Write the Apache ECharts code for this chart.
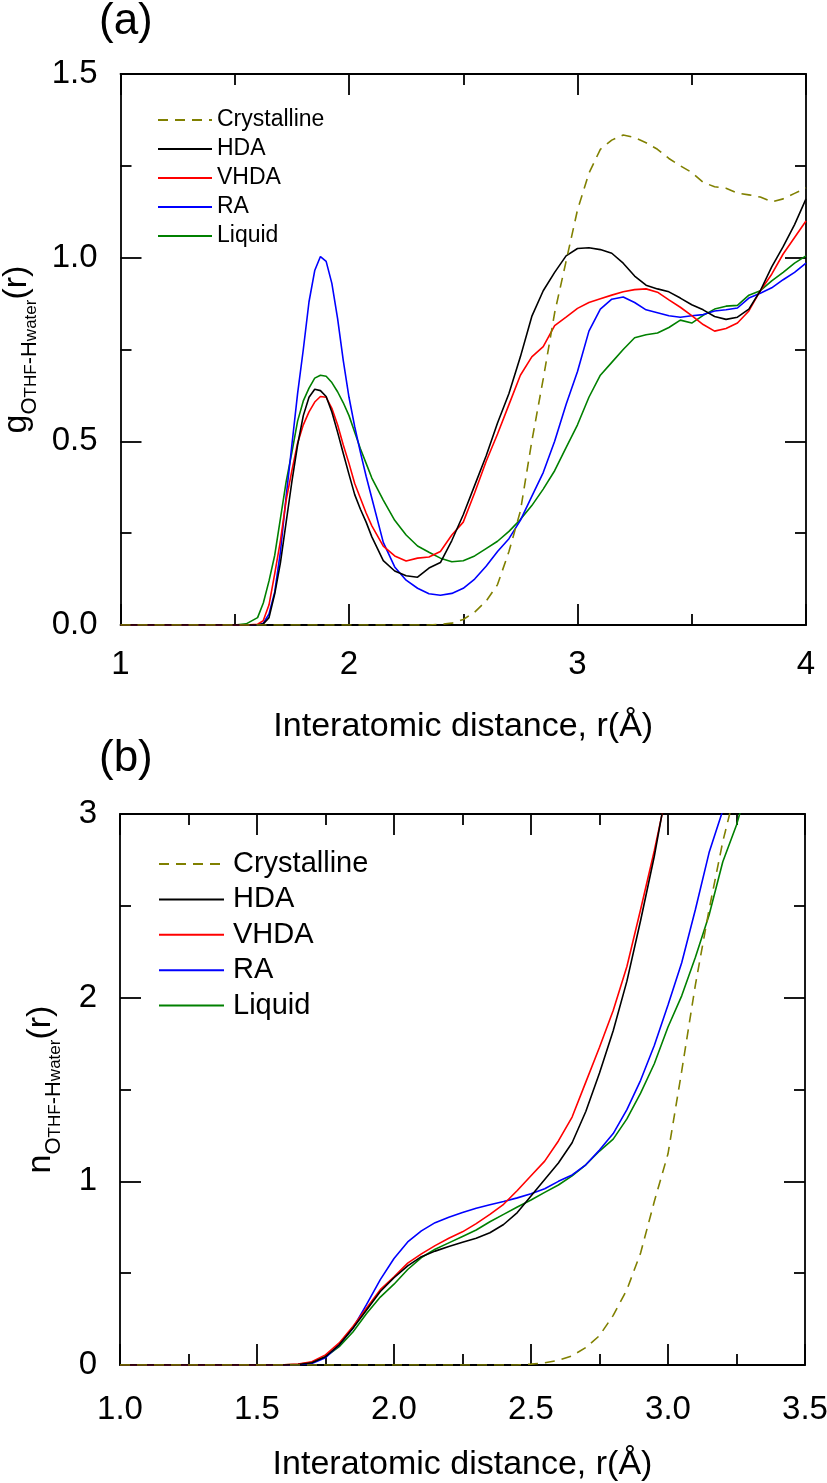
<!DOCTYPE html>
<html>
<head>
<meta charset="utf-8">
<script src="https://cdn.jsdelivr.net/npm/echarts@6/dist/echarts.min.js"></script>
<style>
  html, body { margin: 0; padding: 0; background: #fff; }
  #chart { width: 827px; height: 1483px; }
</style>
</head>
<body>
<div id="chart"></div>
<script>
var FONT = 'Liberation Sans, Arial, sans-serif';
var names = ['Crystalline', 'HDA', 'VHDA', 'RA', 'Liquid'];
var colors = ['#808000', '#000000', '#ff0000', '#0000ff', '#008000'];

// (a) g(r), r in Angstrom
var rA = [1.0, 1.5, 1.55,
  1.6, 1.625, 1.65, 1.675, 1.7, 1.725, 1.75, 1.775, 1.8, 1.825, 1.85, 1.875, 1.9, 1.925, 1.95, 1.975, 2.0, 2.025, 2.05, 2.075, 2.1,
  2.15, 2.2, 2.25, 2.3, 2.35, 2.4, 2.45, 2.5, 2.55, 2.6, 2.65, 2.7, 2.75, 2.8, 2.85, 2.9, 2.95, 3.0,
  3.05, 3.1, 3.15, 3.2, 3.25, 3.3, 3.35, 3.4, 3.45, 3.5, 3.55, 3.6, 3.65, 3.7, 3.75, 3.8, 3.85, 3.9, 3.95, 4.0];
var crystA = [0, 0, 0,
  0, 0, 0, 0, 0, 0, 0, 0, 0, 0, 0, 0, 0, 0, 0, 0, 0, 0, 0, 0, 0,
  0, 0, 0, 0, 0, 0.002, 0.005, 0.015, 0.035, 0.065, 0.11, 0.2, 0.31, 0.5, 0.67, 0.85, 0.99, 1.13,
  1.23, 1.295, 1.32, 1.334, 1.327, 1.313, 1.295, 1.27, 1.25, 1.232, 1.205, 1.193, 1.189, 1.176, 1.171, 1.165, 1.152, 1.16, 1.175, 1.19];
var hdaA = [0, 0, 0,
  0, 0.003, 0.02, 0.085, 0.17, 0.28, 0.39, 0.49, 0.57, 0.62, 0.642, 0.638, 0.622, 0.58, 0.525, 0.467, 0.41, 0.355, 0.315, 0.28, 0.24,
  0.175, 0.147, 0.134, 0.13, 0.155, 0.17, 0.23, 0.3, 0.38, 0.46, 0.55, 0.63, 0.73, 0.84, 0.91, 0.96, 1.005, 1.025,
  1.027, 1.022, 1.012, 0.985, 0.95, 0.925, 0.915, 0.907, 0.89, 0.872, 0.858, 0.84, 0.832, 0.838, 0.86, 0.91, 0.975, 1.03, 1.09, 1.16];
var vhdaA = [0, 0, 0,
  0.002, 0.012, 0.055, 0.14, 0.23, 0.34, 0.42, 0.495, 0.545, 0.58, 0.607, 0.622, 0.62, 0.59, 0.545, 0.49, 0.44, 0.385, 0.345, 0.305, 0.27,
  0.215, 0.188, 0.174, 0.182, 0.185, 0.2, 0.245, 0.28, 0.36, 0.445, 0.52, 0.6, 0.68, 0.73, 0.758, 0.815, 0.838, 0.862,
  0.878, 0.888, 0.898, 0.907, 0.913, 0.915, 0.906, 0.885, 0.865, 0.842, 0.818, 0.8, 0.807, 0.822, 0.855, 0.91, 0.955, 1.01, 1.055, 1.1];
var raA = [0, 0, 0,
  0, 0.005, 0.03, 0.09, 0.2, 0.35, 0.49, 0.63, 0.75, 0.88, 0.965, 1.003, 0.99, 0.93, 0.835, 0.72, 0.62, 0.54, 0.47, 0.405, 0.345,
  0.225, 0.158, 0.122, 0.1, 0.085, 0.081, 0.086, 0.1, 0.125, 0.16, 0.2, 0.235, 0.285, 0.35, 0.415, 0.5, 0.6, 0.69,
  0.8, 0.86, 0.887, 0.893, 0.878, 0.858, 0.85, 0.842, 0.838, 0.842, 0.845, 0.855, 0.858, 0.863, 0.89, 0.903, 0.918, 0.94, 0.96, 0.985];
var liqA = [0, 0, 0.003,
  0.02, 0.06, 0.12, 0.19, 0.29, 0.39, 0.47, 0.555, 0.61, 0.645, 0.672, 0.68, 0.677, 0.66, 0.635, 0.605, 0.57, 0.525, 0.48, 0.44, 0.4,
  0.34, 0.285, 0.245, 0.215, 0.198, 0.182, 0.172, 0.175, 0.188, 0.208, 0.228, 0.255, 0.287, 0.325, 0.37, 0.42, 0.483, 0.545,
  0.62, 0.68, 0.715, 0.75, 0.782, 0.79, 0.795, 0.81, 0.83, 0.822, 0.843, 0.86, 0.868, 0.87, 0.898, 0.91, 0.937, 0.96, 0.985, 1.005];

// (b) n(r)
var rB = [1.0, 1.5, 1.6, 1.65, 1.7, 1.75, 1.8, 1.85, 1.9, 1.95, 2.0, 2.05, 2.1, 2.15, 2.2, 2.25, 2.3, 2.35, 2.4, 2.45,
  2.5, 2.55, 2.6, 2.65, 2.7, 2.75, 2.8, 2.85, 2.9, 2.95, 3.0, 3.05, 3.1, 3.15, 3.2, 3.25, 3.3];
var crystB = [0, 0, 0, 0, 0, 0, 0, 0, 0, 0, 0, 0, 0, 0, 0, 0, 0, 0, 0, 0,
  0.005, 0.012, 0.025, 0.05, 0.095, 0.16, 0.27, 0.41, 0.61, 0.89, 1.15, 1.6, 2.07, 2.48, 2.85, 3.15];
var hdaB = [0, 0, 0, 0.003, 0.012, 0.045, 0.11, 0.2, 0.3, 0.4, 0.475, 0.54, 0.59, 0.62, 0.645, 0.668, 0.69, 0.72, 0.765, 0.83,
  0.92, 1.01, 1.1, 1.21, 1.38, 1.59, 1.82, 2.09, 2.42, 2.77, 3.18];
var vhdaB = [0, 0, 0.001, 0.005, 0.018, 0.055, 0.12, 0.21, 0.31, 0.41, 0.48, 0.555, 0.605, 0.65, 0.69, 0.725, 0.77, 0.82, 0.875, 0.95,
  1.03, 1.11, 1.22, 1.35, 1.54, 1.73, 1.93, 2.17, 2.48, 2.8, 3.15];
var raB = [0, 0, 0, 0.002, 0.008, 0.04, 0.11, 0.2, 0.33, 0.465, 0.58, 0.67, 0.73, 0.775, 0.805, 0.83, 0.853, 0.872, 0.89, 0.91,
  0.932, 0.96, 1.0, 1.035, 1.09, 1.17, 1.26, 1.39, 1.55, 1.74, 1.96, 2.19, 2.48, 2.79, 3.02, 3.3];
var liqB = [0, 0, 0.001, 0.004, 0.015, 0.045, 0.1, 0.18, 0.28, 0.37, 0.44, 0.52, 0.585, 0.63, 0.665, 0.7, 0.735, 0.78, 0.82, 0.86,
  0.898, 0.94, 0.98, 1.03, 1.09, 1.165, 1.23, 1.34, 1.48, 1.64, 1.84, 2.01, 2.22, 2.45, 2.74, 2.94, 3.2];

var xTicksA = [1, 4, 1];      // min, max, interval
var yTicksA = [0, 1.5, 0.5];
var xTicksB = [1, 3.5, 0.5];
var yTicksB = [0, 3, 1];

var chart = echarts.init(document.getElementById('chart'));

function pairs(xs, ys) {
  return ys.map(function (v, i) { return [xs[i], v]; });
}

var black = { color: '#000', width: 1.8 };

function axis(grid, pos, ticks, extra) {
  var a = {
    type: 'value', gridIndex: grid, position: pos,
    min: ticks[0], max: ticks[1], interval: ticks[2],
    axisLine: { show: true, onZero: false, lineStyle: black },
    axisTick: { show: true, inside: true, length: 21, lineStyle: black },
    minorTick: { show: true, splitNumber: 2, length: 11, lineStyle: black },
    splitLine: { show: false },
    minorSplitLine: { show: false },
    axisLabel: { show: false }
  };
  return Object.assign(a, extra || {});
}

function tickLabel(margin, fmt) {
  return { show: true, margin: margin, fontSize: 33, color: '#000', fontFamily: FONT, formatter: fmt };
}

var xName = {
  name: 'Interatomic distance, r(Å)', nameLocation: 'middle',
  nameTextStyle: { fontSize: 34, color: '#000', fontFamily: FONT }
};

var subRich = {
  m: { fontSize: 34, lineHeight: 36, verticalAlign: 'top', color: '#000', fontFamily: FONT },
  s: { fontSize: 22, lineHeight: 22, verticalAlign: 'top', padding: [19, 0, 0, 0], color: '#000', fontFamily: FONT },
  ss: { fontSize: 17, lineHeight: 17, verticalAlign: 'top', padding: [23, 0, 0, 0], color: '#000', fontFamily: FONT }
};

function fixed1(v) { return v.toFixed(1); }

var series = [];
var setsA = [crystA, hdaA, vhdaA, raA, liqA];
var setsB = [crystB, hdaB, vhdaB, raB, liqB];
names.forEach(function (n, k) {
  var ls = { color: colors[k], width: 1.6, type: k === 0 ? [10, 7] : 'solid' };
  series.push({ name: n, type: 'line', xAxisIndex: 0, yAxisIndex: 0, symbol: 'none',
    color: colors[k], lineStyle: ls, data: pairs(rA, setsA[k]), z: 5 - k });
  series.push({ name: n, type: 'line', xAxisIndex: 2, yAxisIndex: 2, symbol: 'none',
    color: colors[k], lineStyle: ls, data: pairs(rB, setsB[k]), z: 5 - k });
});

var option = {
  backgroundColor: '#fff',
  animation: false,
  title: [
    { text: '(a)', left: 99, top: 0, padding: 0,
      textStyle: { fontSize: 44, fontWeight: 'normal', color: '#000', fontFamily: FONT } },
    { text: '(b)', left: 99, top: 737, padding: 0,
      textStyle: { fontSize: 44, fontWeight: 'normal', color: '#000', fontFamily: FONT } }
  ],
  legend: [
    { data: names, orient: 'vertical', left: 157, top: 108, padding: 0,
      itemWidth: 54, itemHeight: 14, itemGap: 5,
      itemStyle: { opacity: 0 },
      textStyle: { fontSize: 23, lineHeight: 24, color: '#000', fontFamily: FONT } },
    { data: names, orient: 'vertical', left: 158, top: 849, padding: 0,
      itemWidth: 65, itemHeight: 14, itemGap: 5.4,
      itemStyle: { opacity: 0 },
      textStyle: { fontSize: 29, lineHeight: 30, color: '#000', fontFamily: FONT, padding: [0, 0, 0, 4] } }
  ],
  grid: [
    { left: 120.5, right: 21, top: 74, height: 551, outerBoundsMode: 'none' },
    { left: 120, right: 22, top: 814, height: 551, outerBoundsMode: 'none' }
  ],
  xAxis: [
    axis(0, 'bottom', xTicksA, Object.assign({ axisLabel: tickLabel(23), nameGap: 85 }, xName)),
    axis(0, 'top', xTicksA),
    axis(1, 'bottom', xTicksB, Object.assign({ axisLabel: tickLabel(28, fixed1), nameGap: 83 }, xName)),
    axis(1, 'top', xTicksB)
  ],
  yAxis: [
    axis(0, 'left', yTicksA, {
      axisLabel: tickLabel(23, fixed1),
      name: '{m|g}{s|O}{ss|THF}{s|-H}{ss|water}{m|(r)}',
      nameLocation: 'middle', nameRotate: 90, nameGap: 82,
      nameTextStyle: { rich: subRich }
    }),
    axis(0, 'right', yTicksA),
    axis(1, 'left', yTicksB, {
      axisLabel: tickLabel(23),
      name: '{m|n}{s|O}{ss|THF}{s|-H}{ss|water}{m|(r)}',
      nameLocation: 'middle', nameRotate: 90, nameGap: 60,
      nameTextStyle: { rich: subRich }
    }),
    axis(1, 'right', yTicksB)
  ],
  series: series
};

chart.setOption(option);
</script>
</body>
</html>
